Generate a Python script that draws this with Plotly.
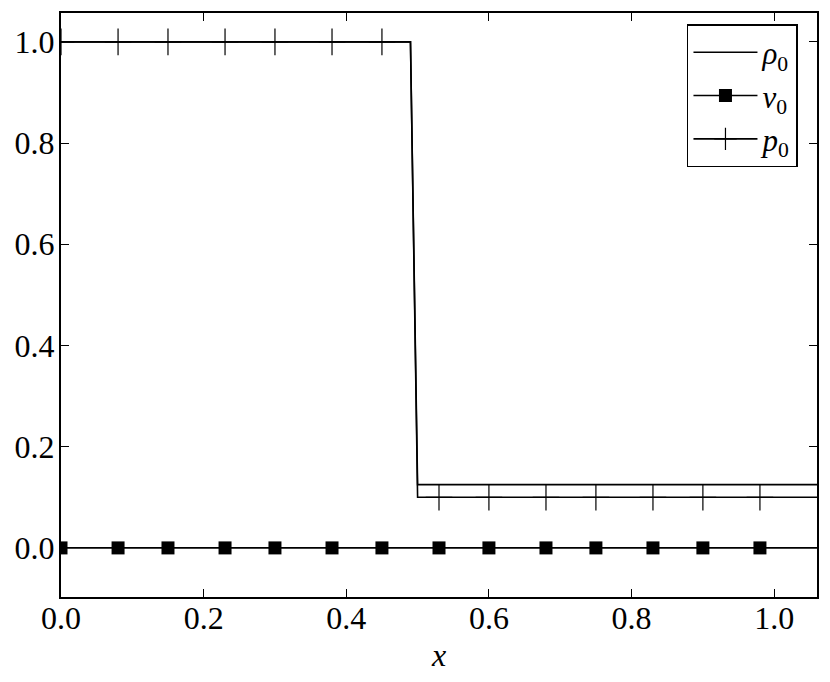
import plotly.graph_objects as go

# Data: initial conditions of the shock tube
x_line = [0.0, 0.49, 0.50, 1.06]
rho0 = [1.0, 1.0, 0.125, 0.125]
p0 = [1.0, 1.0, 0.1, 0.1]
x_v = [0.0, 1.06]
v0 = [0.0, 0.0]

marker_x = [0.0, 0.08, 0.15, 0.23, 0.30, 0.38, 0.45, 0.53, 0.60, 0.68, 0.75, 0.83, 0.90, 0.98]
v0_markers = [0.0] * len(marker_x)
p0_markers = [1.0, 1.0, 1.0, 1.0, 1.0, 1.0, 1.0, 0.1, 0.1, 0.1, 0.1, 0.1, 0.1, 0.1]

x_ticks = [0.0, 0.2, 0.4, 0.6, 0.8, 1.0]
y_ticks = [0.0, 0.2, 0.4, 0.6, 0.8, 1.0]

FONT = "Liberation Serif"
FS = 32
LW = 1.6

fig = go.Figure()

# data traces (no legend)
fig.add_trace(go.Scatter(x=x_line, y=rho0, mode="lines", line=dict(color="black", width=LW),
                         showlegend=False, hoverinfo="skip"))
fig.add_trace(go.Scatter(x=x_v, y=v0, mode="lines", line=dict(color="black", width=LW),
                         showlegend=False, hoverinfo="skip"))
fig.add_trace(go.Scatter(x=marker_x, y=v0_markers, mode="markers",
                         marker=dict(symbol="square", size=13, color="black", line=dict(width=0)),
                         showlegend=False, hoverinfo="skip"))
fig.add_trace(go.Scatter(x=x_line, y=p0, mode="lines", line=dict(color="black", width=LW),
                         showlegend=False, hoverinfo="skip"))
fig.add_trace(go.Scatter(x=marker_x, y=p0_markers, mode="markers",
                         marker=dict(symbol="cross-thin", size=19, color="black",
                                     line=dict(width=1.2, color="black")),
                         showlegend=False, hoverinfo="skip"))

# legend entries
fig.add_trace(go.Scatter(x=[None], y=[None], mode="lines", name="<i>ρ</i><sub>0</sub>",
                         line=dict(color="black", width=LW)))
fig.add_trace(go.Scatter(x=[None], y=[None], mode="lines+markers", name="<i>v</i><sub>0</sub>",
                         line=dict(color="black", width=LW),
                         marker=dict(symbol="square", size=13, color="black")))
fig.add_trace(go.Scatter(x=[None], y=[None], mode="lines+markers", name="<i>p</i><sub>0</sub>",
                         line=dict(color="black", width=LW),
                         marker=dict(symbol="cross-thin", size=19, color="black",
                                     line=dict(width=1.2, color="black"))))

axis_common = dict(
    showline=True, linecolor="black", linewidth=2, mirror="ticks",
    ticks="inside", ticklen=8, tickwidth=1, tickcolor="black",
    showgrid=False, zeroline=False, automargin=False,
    tickfont=dict(family=FONT, size=FS, color="black"),
)

fig.update_xaxes(range=[0.0, 1.06], tickvals=x_ticks, tickformat=".1f",
                 title=dict(text="<i>x</i>", font=dict(family=FONT, size=FS, color="black"), standoff=8),
                 ticklabelstandoff=-8, **axis_common)
fig.update_yaxes(range=[-0.097, 1.057], tickvals=y_ticks, tickformat=".1f",
                 ticklabelstandoff=-2, **axis_common)

# page body adds an 8px offset, margins compensate for it
fig.update_layout(
    width=830, height=682,
    margin=dict(l=53, r=21, t=5, b=93),
    paper_bgcolor="white", plot_bgcolor="white",
    font=dict(family=FONT, color="black"),
    legend=dict(x=0.828, y=0.981, xanchor="left", yanchor="top",
                bgcolor="white", bordercolor="black", borderwidth=1.5,
                font=dict(family=FONT, size=31, color="black"),
                itemwidth=64, tracegroupgap=0),
)

fig.write_html("out.html")
